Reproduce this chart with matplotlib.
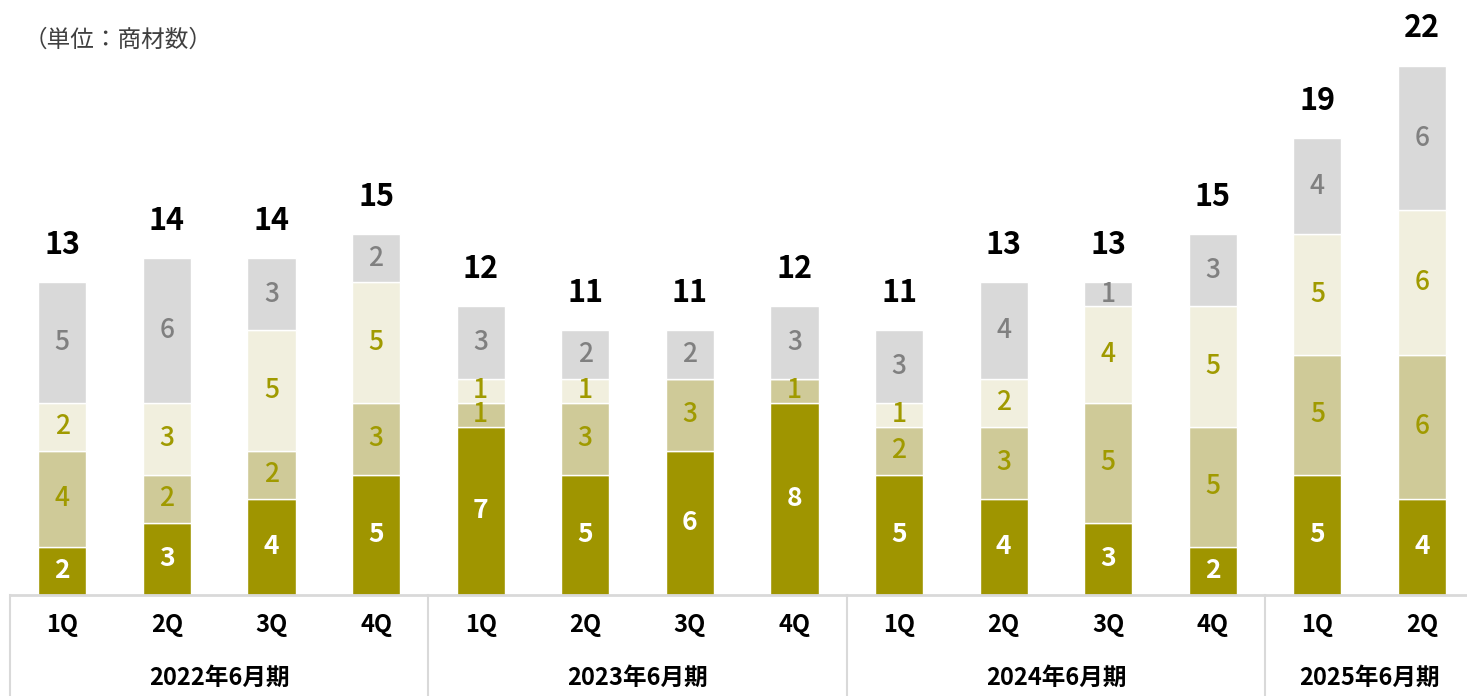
import matplotlib
matplotlib.use('Agg')
import matplotlib.pyplot as plt
import numpy as np

plt.rcParams['font.family'] = ['Noto Sans CJK JP', 'DejaVu Sans']

quarters = ['1Q', '2Q', '3Q', '4Q', '1Q', '2Q', '3Q', '4Q',
            '1Q', '2Q', '3Q', '4Q', '1Q', '2Q']
years = ['2022年6月期', '2023年6月期', '2024年6月期', '2025年6月期']
year_spans = [(0, 3), (4, 7), (8, 11), (12, 13)]

seg1 = [2, 3, 4, 5, 7, 5, 6, 8, 5, 4, 3, 2, 5, 4]
seg2 = [4, 2, 2, 3, 1, 3, 3, 1, 2, 3, 5, 5, 5, 6]
seg3 = [2, 3, 5, 5, 1, 1, 0, 0, 1, 2, 4, 5, 5, 6]
seg4 = [5, 6, 3, 2, 3, 2, 2, 3, 3, 4, 1, 3, 4, 6]

colors = ['#9F9500', '#CFCA98', '#F1EFDE', '#D9D9D9']
text_colors = ['white', '#A09A00', '#A09A00', '#808080']

fig = plt.figure(figsize=(14.67, 6.96), dpi=100)
ax = fig.add_axes([10 / 1467, 1 - 595 / 696, 1 - 10 / 1467, 24 * 24.05 / 696])

x = np.arange(len(quarters))
bottom = np.zeros(len(quarters))
for vals, c, tc in zip([seg1, seg2, seg3, seg4], colors, text_colors):
    vals = np.array(vals)
    ax.bar(x, vals, bottom=bottom, width=0.46, color=c,
           edgecolor='white', linewidth=1)
    for xi, b, v in zip(x, bottom, vals):
        if v > 0:
            ax.text(xi, b + v / 2, str(v), ha='center', va='center',
                    fontsize=19, color=tc,
                    fontweight='bold' if tc == 'white' else 'medium')
    bottom = bottom + vals

for xi, t in zip(x, bottom):
    ax.annotate(str(int(t)), (xi, t), xytext=(0, 27),
                textcoords='offset points', ha='center', va='center',
                fontsize=22, fontweight='bold', color='black')

ax.set_xlim(-0.5, 13.43)
ax.set_ylim(0, 24)
for s in ax.spines.values():
    s.set_visible(False)
ax.set_xticks([])
ax.set_yticks([])

# category table below the plot
trans = ax.get_xaxis_transform()
ax.plot([-0.5, 13.43], [0, 0], transform=trans, color='#D9D9D9',
        lw=2, clip_on=False)
for xv in [-0.5, 3.5, 7.5, 11.5]:
    ax.plot([xv, xv], [0, -0.18], transform=trans, color='#D9D9D9',
            lw=1.5, clip_on=False)
for xi, q in zip(x, quarters):
    ax.text(xi, -0.052, q, transform=trans, ha='center', va='center',
            fontsize=17, fontweight='bold')
for (a, b), y in zip(year_spans, years):
    ax.text((a + b) / 2, -0.144, y, transform=trans, ha='center',
            va='center', fontsize=17, fontweight='bold')

fig.text(24 / 1467, 1 - 40 / 696, '（単位：商材数）', ha='left', va='center',
         fontsize=17, color='#404040')

fig.savefig('out.png', dpi=100)
